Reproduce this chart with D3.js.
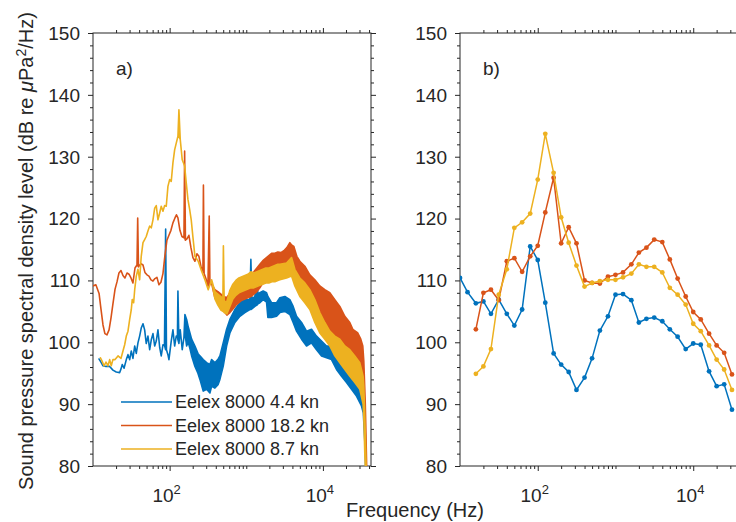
<!DOCTYPE html>
<html>
<head>
<meta charset="utf-8">
<script src="https://cdn.jsdelivr.net/npm/d3@7"></script>
<style>
  body { margin: 0; background: #fff; }
  text { font-family: "Liberation Sans", Arial, Helvetica, sans-serif; fill: #262626; }
</style>
</head>
<body>
<div id="chart"></div>
<script>
// ---- data ----
// narrowband spectra: [Hz, low dB, high dB]; a missing high means a thin line
const spec44 = [
  [12.0, 97.3], [12.7, 96.8], [13.5, 96.2], [14.8, 96.1], [16.5, 96.1], [18.2, 95.5], [20.1, 95.2],
  [22.3, 95.1], [23.2, 95.7], [24.1, 96.4], [25.4, 95.8], [27.2, 97.2], [28.6, 98.0], [30.1, 97.2],
  [31.6, 98.6], [33.2, 97.4], [35.0, 99.4], [36.7, 98.2], [38.6, 99.9], [40.6, 101.0], [42.6, 102.3],
  [44.9, 103.0], [47.2, 102.0], [49.5, 99.8], [52.1, 101.0], [54.9, 98.8], [57.6, 100.4], [60.6, 101.4],
  [63.8, 99.4], [66.9, 100.2], [70.4, 102.0], [74.1, 99.2], [77.7, 97.8], [81.8, 99.6], [85.6, 99.5],
  [88.7, 98.8, 118.3], [90.9, 98.8], [95.0, 98.0], [97.9, 97.2], [104.9, 100.2], [110.4, 102.0],
  [116.2, 99.4], [122.0, 101.0], [126.4, 101.0], [128.3, 100.4, 108.3], [132.2, 99.8], [137.5, 102.0],
  [146.0, 98.8], [153.7, 100.8], [158.3, 101.5, 104.5], [166.6, 99.4, 103.7], [174.8, 100.0, 102.5],
  [184.0, 99.0, 101.5], [193.6, 97.8, 100.5], [213.8, 96.1, 99.4], [233.9, 95.0, 98.2], [248.4, 94.0, 97.8],
  [274.2, 92.1, 97.2], [303.7, 92.4, 96.7], [335.4, 91.8, 96.4], [352.9, 92.9, 97.2], [389.6, 92.6, 96.7],
  [430.2, 93.2, 97.3], [452.7, 94.0, 97.8], [499.8, 96.1, 99.9], [553.6, 99.4, 102.1], [611.2, 101.5, 103.7],
  [710.2, 103.2, 105.3], [825.3, 104.2, 106.4], [958.8, 104.8, 106.9], [1114, 105.3, 106.9],
  [1148, 105.3, 113.4], [1183, 105.4, 107.0], [1294, 105.8, 107.4], [1375, 106.0, 110.5], [1417, 106.2, 107.8],
  [1504, 106.4, 108.0], [1661, 106.9, 108.3], [1839, 106.5, 108.0], [1913, 104.0, 107.4], [2138, 104.0, 106.4],
  [2484, 104.2, 106.4], [2743, 104.8, 107.2], [3187, 105.0, 107.4], [3703, 104.5, 106.9], [4089, 103.2, 105.8],
  [4527, 101.8, 104.2], [5260, 100.5, 103.2], [6112, 99.4, 101.8], [7102, 99.9, 102.1], [8252, 98.8, 101.0],
  [9590, 97.8, 100.2], [11143, 97.5, 99.4], [12947, 97.2, 99.4], [15047, 95.6, 98.3], [17484, 94.5, 96.7],
  [20313, 93.5, 96.1], [23601, 92.4, 95.1], [27423, 91.3, 93.5], [31864, 89.7, 92.1], [33638, 88.6, 91.0],
  [35189, 84.0, 88.0], [36808, 76.0, 79.0]
];
const spec182 = [
  [10.0, 109.1], [10.9, 109.3], [12.0, 107.9], [12.7, 105.4], [13.5, 102.8], [14.3, 101.4], [15.2, 101.2],
  [16.2, 102.0], [17.2, 104.0], [18.2, 106.2], [19.4, 108.6], [20.6, 109.8], [21.8, 111.2], [23.2, 111.6],
  [24.6, 110.8], [26.1, 110.4], [27.8, 111.2], [29.5, 111.0], [31.3, 110.4], [33.2, 109.6], [35.3, 112.0],
  [37.5, 112.5], [38.3, 112.4, 120.1], [39.2, 112.2], [42.3, 112.7], [44.9, 112.5], [47.6, 111.3],
  [50.6, 110.9], [53.7, 110.7], [57.1, 110.1], [60.6, 109.9], [64.3, 110.3], [68.3, 110.5], [72.5, 109.3],
  [77.0, 109.7], [81.8, 111.1], [86.9, 114.1], [92.2, 116.5], [97.9, 117.3], [104.0, 118.1], [110.4, 119.3],
  [117.3, 120.1], [122.7, 120.6], [128.3, 120.1], [136.2, 118.1], [144.7, 117.1], [153.7, 116.9],
  [156.9, 116.9, 130.9], [160.7, 116.5], [168.1, 116.7], [178.5, 117.3], [189.6, 115.3], [201.3, 113.7],
  [213.8, 113.1], [227.0, 114.3], [241.0, 113.9], [255.9, 112.3], [271.8, 111.5], [275.9, 111.5, 125.4],
  [281.8, 111.1], [297.4, 110.3], [315.8, 109.1], [328.4, 109.1, 120.4], [335.4, 109.7], [356.1, 109.3],
  [389.6, 107.2, 108.5], [426.3, 106.6, 108.2], [466.5, 106.0, 107.8], [510.5, 105.0, 107.4],
  [558.6, 104.4, 107.2], [611.2, 104.8, 108.0], [668.9, 105.4, 108.8], [731.8, 106.0, 109.4],
  [800.9, 106.4, 109.8], [876.3, 106.8, 110.4], [958.8, 107.0, 110.6], [1049, 107.2, 110.8],
  [1148, 107.4, 111.0], [1256, 107.8, 111.4], [1375, 108.2, 112.0], [1504, 108.8, 112.6], [1646, 109.6, 113.2],
  [1801, 110.2, 113.6], [1971, 110.6, 114.0], [2157, 111.0, 114.4], [2360, 111.2, 114.4], [2583, 111.4, 114.6],
  [2827, 111.6, 114.5], [3093, 111.8, 114.8], [3384, 112.0, 115.3], [3703, 112.4, 116.1], [3931, 112.6, 115.7],
  [4175, 112.4, 115.5], [4568, 111.0, 113.9], [4999, 109.6, 113.1], [5808, 108.6, 112.3], [6749, 107.6, 110.9],
  [7841, 106.0, 110.1], [9113, 104.0, 109.1], [10588, 102.4, 108.5], [12303, 101.0, 108.0],
  [14297, 100.0, 106.9], [16616, 99.4, 105.8], [19305, 98.4, 104.2], [22429, 97.8, 103.2],
  [24544, 97.2, 102.1], [28514, 96.0, 101.5], [31201, 95.0, 100.5], [33138, 93.0, 99.4], [34145, 92.0, 97.0],
  [35720, 84.0, 90.0], [37365, 76.0, 79.0]
];
const spec87 = [
  [12.5, 97.5], [13.1, 97.0], [13.9, 96.2], [14.8, 96.8], [15.7, 96.2], [16.5, 97.2], [17.3, 96.2],
  [18.2, 97.2], [19.4, 97.2], [21.2, 97.8], [23.2, 97.4], [24.6, 98.6], [25.9, 99.6], [27.2, 101.0],
  [28.6, 101.8], [30.1, 103.7], [31.6, 105.3], [32.5, 106.9], [33.9, 106.4], [35.0, 108.5], [36.7, 110.7],
  [38.6, 111.8], [40.6, 110.1], [42.6, 113.9], [44.9, 116.1], [47.2, 116.6], [49.5, 117.1], [52.1, 118.0],
  [54.9, 118.8], [57.6, 118.5], [60.6, 119.8], [63.8, 121.7], [66.9, 122.1], [70.4, 119.8], [74.1, 120.9],
  [77.7, 122.0], [81.8, 121.2], [86.1, 122.1], [90.3, 122.0], [95.0, 125.2], [100.0, 126.3], [104.9, 126.0],
  [110.4, 129.0], [116.2, 131.1], [122.0, 132.2], [128.3, 133.3], [132.2, 133.3, 137.6], [137.5, 132.8],
  [146.0, 129.5], [156.9, 128.5], [164.6, 125.8], [173.3, 123.1], [182.4, 121.5], [191.3, 119.8],
  [201.3, 117.0], [213.8, 113.9], [236.0, 113.1], [261.3, 111.5], [288.6, 110.1], [318.7, 108.5],
  [352.9, 110.1], [389.6, 107.0, 108.2], [426.3, 106.0, 107.8], [466.5, 105.2, 107.4], [495.3, 105.0, 107.0],
  [502.8, 105.0, 115.6], [515.1, 104.8, 106.6], [558.6, 104.6, 106.6], [611.2, 105.8, 108.4],
  [668.9, 107.0, 109.4], [731.8, 107.6, 110.0], [800.9, 108.0, 110.4], [876.3, 108.2, 110.6],
  [958.8, 108.4, 110.8], [1049, 108.6, 111.0], [1148, 108.8, 111.4], [1256, 108.8, 111.2], [1375, 109.0, 111.4],
  [1504, 109.2, 111.6], [1646, 109.4, 111.8], [1801, 109.6, 112.0], [1971, 109.6, 112.0], [2157, 109.8, 112.2],
  [2360, 109.8, 112.4], [2583, 110.0, 112.6], [2743, 110.1, 112.6], [3354, 110.4, 112.8], [3896, 110.7, 113.7],
  [4302, 109.1, 111.8], [4999, 107.4, 110.4], [5808, 106.4, 109.6], [6749, 105.3, 108.5], [7841, 103.2, 106.9],
  [9113, 101.5, 104.8], [10588, 100.5, 103.2], [12303, 99.4, 101.8], [14297, 97.8, 101.0], [16616, 96.7, 100.5],
  [19305, 95.6, 99.4], [22429, 94.5, 98.8], [26062, 93.5, 97.8], [30276, 92.4, 96.7], [33437, 90.0, 94.5],
  [34145, 88.0, 93.0], [35189, 82.0, 88.0], [36808, 76.0, 79.0]
];

// third-octave band levels (dB), null where no band value
const bandFreq = [10, 12.5, 16, 20, 25, 31.5, 40, 50, 63, 80, 100, 125, 160, 200, 250, 315, 400, 500, 630, 800,
  1000, 1250, 1600, 2000, 2500, 3150, 4000, 5000, 6300, 8000, 10000, 12500, 16000, 20000, 25000, 31500];
const band44 = [110.4, 108.1, 106.3, 106.6, 104.6, 106.9, 104.6, 102.7, 105.3, 115.5, 113.3, 106.4, 98.2, 96.4,
  95.2, 92.3, 94.3, 97.4, 101.9, 104.2, 107.7, 107.8, 106.8, 103.2, 103.8, 104.0, 103.4, 102.1, 100.9, 98.9,
  99.8, 99.6, 95.3, 92.9, 93.2, 89.1];
const band182 = [null, null, 102.1, 108.0, 108.5, 106.8, 113.1, 113.6, 111.4, 113.9, 115.6, 121.0, 126.6, 116.0,
  118.6, 116.0, 110.0, 109.6, 109.5, 110.6, 110.9, 111.3, 112.6, 114.5, 115.3, 116.6, 116.2, 113.4, 110.3,
  107.4, 104.9, 103.7, 101.4, 99.5, 98.3, 94.8];
const band87 = [null, null, 94.9, 96.1, 98.9, 107.7, 111.8, 118.5, 119.4, 120.8, 126.3, 133.7, 127.4, 120.2,
  116.1, 112.4, 109.0, 109.6, 109.9, 110.1, 110.1, 110.5, 111.1, 112.6, 112.2, 112.2, 111.3, 108.8, 107.7,
  106.1, 103.0, 101.8, 99.5, 97.2, 95.6, 92.3];

const seriesNames = ["Eelex 8000 4.4 kn", "Eelex 8000 18.2 kn", "Eelex 8000 8.7 kn"];
const seriesColors = ["#0072BD", "#D95319", "#EDB120"];

const yMajorTicks = [80, 90, 100, 110, 120, 130, 140, 150];
const yMinorTicks = [82, 84, 86, 88, 92, 94, 96, 98, 102, 104, 106, 108, 112, 114, 116, 118,
  122, 124, 126, 128, 132, 134, 136, 138, 142, 144, 146, 148];
const xMajorTicks = [100, 10000];
const xMinorTicks = [20, 30, 40, 50, 60, 70, 80, 90, 200, 300, 400, 500, 600, 700, 800, 900, 1000,
  2000, 3000, 4000, 5000, 6000, 7000, 8000, 9000, 20000, 30000, 40000];

// ---- layout ----
const svgWidth = 736, svgHeight = 522,
  plotTop = 33, plotBottom = 466,
  freqDomain = [10, 42400];
const panels = [
  { left: 93, right: 371, tag: "a)" },
  { left: 460, right: 742, tag: "b)" }
];

const svg = d3.select("#chart").append("svg")
  .attr("width", svgWidth)
  .attr("height", svgHeight);

const yScale = d3.scaleLinear().domain([80, 150]).range([plotBottom, plotTop]);

function setupPanel(p, i) {
  const x = d3.scaleLog().domain(freqDomain).range([p.left, p.right]);
  const g = svg.append("g");

  svg.append("clipPath").attr("id", "clip" + i)
    .append("rect")
    .attr("x", p.left).attr("y", plotTop)
    .attr("width", p.right - p.left).attr("height", plotBottom - plotTop);

  const axes = [
    [d3.axisBottom, plotBottom, "x"], [d3.axisTop, plotTop, "x"],
    [d3.axisLeft, p.left, "y"], [d3.axisRight, p.right, "y"]
  ];
  axes.forEach(([fn, pos, dim]) => {
    const sc = dim === "x" ? x : yScale;
    const major = dim === "x" ? xMajorTicks : yMajorTicks;
    const minor = dim === "x" ? xMinorTicks : yMinorTicks;
    const tr = dim === "x" ? `translate(0,${pos})` : `translate(${pos},0)`;
    [[minor, 3], [major, 5]].forEach(([vals, len]) => {
      g.append("g")
        .attr("transform", tr)
        .call(fn(sc).tickValues(vals).tickSize(len).tickSizeOuter(0).tickFormat(""))
        .call(a => a.select(".domain").remove())
        .call(a => a.selectAll("line").attr("stroke", "#262626"));
    });
  });

  g.append("rect")
    .attr("x", p.left).attr("y", plotTop)
    .attr("width", p.right - p.left).attr("height", plotBottom - plotTop)
    .attr("fill", "none").attr("stroke", "#262626").attr("stroke-width", 1);

  // y tick labels
  g.selectAll(".ylab").data(yMajorTicks).join("text")
    .attr("x", p.left - 13)
    .attr("y", d => yScale(d))
    .attr("dy", "0.36em")
    .attr("text-anchor", "end")
    .attr("font-size", 19)
    .text(d => d);

  // x tick labels as 10^n
  const xl = g.selectAll(".xlab").data(xMajorTicks).join("text")
    .attr("x", d => x(d) - 3)
    .attr("y", plotBottom + 36)
    .attr("text-anchor", "middle")
    .attr("font-size", 19);
  xl.append("tspan").text("10");
  xl.append("tspan").attr("dy", -8).attr("font-size", 13).text(d => Math.round(Math.log10(d)));

  g.append("text")
    .attr("x", p.left + 23).attr("y", 75)
    .attr("font-size", 19)
    .text(p.tag);

  return x;
}

const xA = setupPanel(panels[0], 0);
const xB = setupPanel(panels[1], 1);

// ---- panel a: narrowband spectra ----
const area = d3.area()
  .x(d => xA(d[0]))
  .y0(d => yScale(d[1]))
  .y1(d => yScale(d.length > 2 ? d[2] : d[1]));

const specGroup = svg.append("g").attr("clip-path", "url(#clip0)");
[spec44, spec182, spec87].forEach((s, i) => {
  specGroup.append("path")
    .datum(s)
    .attr("d", area)
    .attr("fill", seriesColors[i])
    .attr("stroke", seriesColors[i])
    .attr("stroke-width", 1.6)
    .attr("stroke-linejoin", "round");
});

// legend
const legend = svg.append("g");
seriesNames.forEach((name, i) => {
  const ly = 402 + i * 23.5;
  legend.append("line")
    .attr("x1", 121).attr("x2", 172)
    .attr("y1", ly).attr("y2", ly)
    .attr("stroke", seriesColors[i]).attr("stroke-width", 1.4);
  legend.append("text")
    .attr("x", 175).attr("y", ly)
    .attr("dy", "0.36em")
    .attr("font-size", 18)
    .text(name);
});

// ---- panel b: band levels ----
const bandGroup = svg.append("g").attr("clip-path", "url(#clip1)");
[band44, band182, band87].forEach((vals, i) => {
  const pts = bandFreq.map((f, j) => [f, vals[j]]).filter(d => d[1] != null);
  bandGroup.append("path")
    .datum(pts)
    .attr("d", d3.line().x(d => xB(d[0])).y(d => yScale(d[1])))
    .attr("fill", "none")
    .attr("stroke", seriesColors[i])
    .attr("stroke-width", 1.5);
  bandGroup.selectAll(".dot" + i).data(pts).join("circle")
    .attr("cx", d => xB(d[0]))
    .attr("cy", d => yScale(d[1]))
    .attr("r", 2.4)
    .attr("fill", seriesColors[i]);
});

// ---- axis titles ----
svg.append("text")
  .attr("x", 415).attr("y", 517)
  .attr("text-anchor", "middle")
  .attr("font-size", 20)
  .text("Frequency (Hz)");

const yTitle = svg.append("text")
  .attr("transform", "translate(33,251) rotate(-90)")
  .attr("text-anchor", "middle")
  .attr("font-size", 20);
yTitle.append("tspan").text("Sound pressure spectral density level (dB re ");
yTitle.append("tspan").attr("font-style", "italic").text("μ");
yTitle.append("tspan").text("Pa");
yTitle.append("tspan").attr("dy", -7).attr("font-size", 14).text("2");
yTitle.append("tspan").attr("dy", 7).text("/Hz)");
</script>
</body>
</html>
